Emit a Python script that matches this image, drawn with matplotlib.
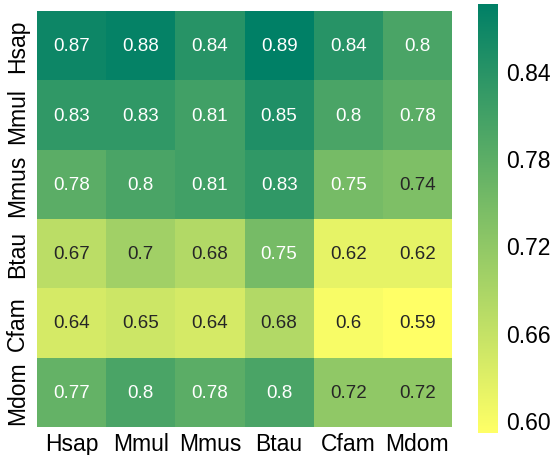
import matplotlib
matplotlib.use("Agg")
import matplotlib.pyplot as plt
import seaborn as sns
import numpy as np
import pandas as pd

species = ["Hsap", "Mmul", "Mmus", "Btau", "Cfam", "Mdom"]
row_hsap = [0.87, 0.88, 0.84, 0.89, 0.84, 0.80]
row_mmul = [0.83, 0.83, 0.81, 0.85, 0.80, 0.78]
row_mmus = [0.78, 0.80, 0.81, 0.83, 0.75, 0.74]
row_btau = [0.67, 0.70, 0.68, 0.75, 0.62, 0.62]
row_cfam = [0.64, 0.65, 0.64, 0.68, 0.60, 0.59]
row_mdom = [0.77, 0.80, 0.78, 0.80, 0.72, 0.72]
cbar_ticks = [0.60, 0.66, 0.72, 0.78, 0.84]

df = pd.DataFrame([row_hsap, row_mmul, row_mmus, row_btau, row_cfam, row_mdom],
                  index=species, columns=species)

plt.rcParams['font.family'] = ['Liberation Sans', 'DejaVu Sans']
W, H = 556, 456
fig = plt.figure(figsize=(W / 100, H / 100), dpi=100)
ax = fig.add_axes([37 / W, 1 - 428 / H, 415 / W, 416 / H])
cax = fig.add_axes([478 / W, 1 - 434 / H, 20 / W, 429 / H])

sns.heatmap(df, ax=ax, cbar_ax=cax, cmap="summer_r", vmin=0.591, vmax=0.886,
            annot=True, fmt="g", annot_kws={"fontsize": 13.5})
ax.set_position([37 / W, 1 - 428 / H, 415 / W, 416 / H])
ax.tick_params(axis='both', length=0, labelsize=16.5)
ax.tick_params(axis='x', pad=3.5)
ax.tick_params(axis='y', pad=5.5)
ax.set_yticklabels(species, rotation=90, va='center')
ax.set_xticklabels(species, rotation=0)
cax.set_yticks(cbar_ticks)
cax.set_yticklabels(["%.2f" % t for t in cbar_ticks])
cax.tick_params(length=0, labelsize=16.5, pad=5.5)
for s in cax.spines.values():
    s.set_visible(False)

fig.savefig("out.png", dpi=100)
